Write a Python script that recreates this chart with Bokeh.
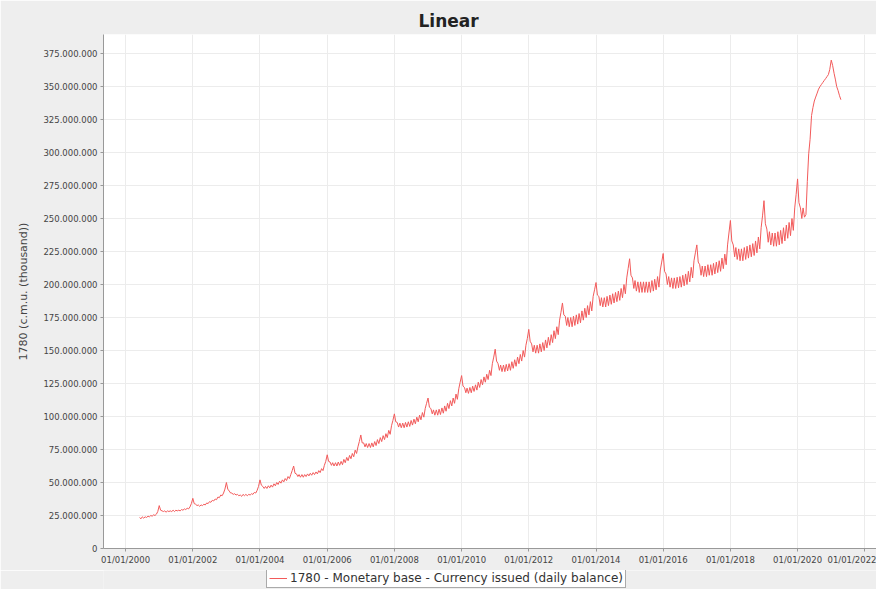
from datetime import datetime

from bokeh.plotting import figure
from bokeh.layouts import column
from bokeh.models import (Range1d, FixedTicker, DatetimeTickFormatter, Legend,
                          LegendItem, ColumnDataSource)
from bokeh.embed import file_html
from bokeh.resources import INLINE

title_text = "Linear"
y_axis_title = "1780 (c.m.u. (thousand))"
series_name = "1780 - Monetary base - Currency issued (daily balance)"

# Readings on the 1st and 16th of each month, in millions of the axis unit
v2000 = [23.5, 22.5, 24, 23, 24, 23.5, 24.5, 24, 25, 24.5, 25.5, 25, 26, 28]  # Jun..Dec
v2001 = [32.5, 29, 28.5, 28, 28.5, 27.5, 28.5, 28, 28.5, 28, 29, 28, 29, 28.5, 29, 28.5, 29.5, 29, 30, 29.5, 30.5, 30, 31.5, 34]
v2002 = [38, 34, 33.5, 32.5, 33, 32, 33, 32.5, 33.5, 33, 34.5, 34, 35.5, 35, 36.5, 36, 37.5, 37, 39, 38.5, 40.5, 40, 42, 45]
v2003 = [50, 45, 43.5, 42, 42, 41, 41.5, 40.5, 41, 40, 40.5, 39.5, 41, 40, 41, 40, 41, 40.5, 41.5, 41, 42.5, 42, 44, 47]
v2004 = [52, 48, 47, 45.5, 47, 45.5, 47.5, 46, 48, 46.5, 49, 47.5, 50, 48.5, 51, 49.5, 52, 50.5, 53, 51.5, 54.5, 53, 56, 59]
v2005 = [62.5, 57, 56.5, 54.5, 56, 54, 56, 54, 56, 54.5, 56.5, 55, 57, 55.5, 57.5, 56, 58, 56.5, 59, 57.5, 60.5, 59, 63, 66]
v2006 = [71, 66, 65.5, 63, 65, 62.5, 65, 62.5, 65.5, 63, 66, 63.5, 67.5, 65, 69, 66.5, 70.5, 68, 72, 69.5, 74.5, 72, 77, 81]
v2007 = [86, 80, 80, 77, 79.5, 76.5, 79.5, 76.5, 80, 77, 81, 78, 82.5, 79.5, 84, 81, 85.5, 82.5, 87, 84, 89.5, 86.5, 93, 97]
v2008 = [102, 96, 95.5, 92, 95, 91.5, 95, 91.5, 95.5, 92, 96, 92.5, 97, 93.5, 98, 94.5, 99.5, 96, 101, 97.5, 103, 99.5, 106, 110]
v2009 = [114, 107, 106, 102, 105, 101, 105, 101, 105.5, 101.5, 106.5, 102.5, 108, 104, 110, 106, 112, 108, 114, 110, 117, 113, 121, 126]
v2010 = [131, 123, 122, 118, 121.5, 117.5, 122, 118, 123, 119, 124, 120, 126, 122, 128, 124, 130, 126, 132, 128, 135, 131, 140, 145]
v2011 = [151, 142, 140, 135, 139, 134, 139, 134, 139.5, 134.5, 140, 135, 141.5, 136.5, 143, 138, 145, 140, 147, 142, 150, 145, 154, 159]
v2012 = [166, 157, 155, 149, 154, 148, 154, 148, 155, 149, 156, 150, 158, 152, 160, 154, 162, 156, 165, 159, 168, 162, 173, 179]
v2013 = [186, 177, 176, 169, 175, 168, 175, 168, 176, 169, 177, 170, 178, 171, 180, 173, 182, 175, 184, 177, 187, 180, 191, 196]
v2014 = [201.5, 192, 191, 184, 190, 183, 190, 183, 191, 184, 192, 185, 193, 186, 194, 187, 195, 188, 197, 190, 200, 193, 205, 212]
v2015 = [219.5, 207, 205, 197, 203, 195, 202, 194, 202, 194, 202, 194, 202, 194, 202, 194, 203, 195, 204, 196, 206, 198, 211, 217]
v2016 = [223.5, 210, 208, 200, 206, 198, 205, 197, 205, 197, 205.5, 197.5, 206, 198, 207, 199, 208, 200, 210, 202, 213, 205, 218, 224]
v2017 = [230, 217, 215, 207, 214, 206, 214, 206, 215, 207, 215, 207, 216, 208, 217, 209, 218, 210, 220, 212, 223, 215, 230, 239]
v2018 = [248.5, 233, 230, 221, 228, 219, 227, 218, 227, 218, 228, 219, 229, 220, 230, 221, 231, 222, 233, 224, 236, 227, 243, 252]
v2019 = [263.5, 246, 242, 232, 240, 230, 239, 229, 239, 229, 240, 230, 241, 231, 243, 233, 245, 235, 247, 237, 250, 241, 258, 268]
v2020 = [280, 262, 258, 250, 258, 251, 253, 278, 299, 310, 328, 334, 339, 342, 345, 348, 350, 351.5, 353, 354.5, 356, 357.5, 359, 363]
v2021 = [370, 366, 360, 355, 350, 347, 343, 340]  # Jan..Apr

yearly = [(2000, 6, v2000), (2001, 1, v2001), (2002, 1, v2002), (2003, 1, v2003),
          (2004, 1, v2004), (2005, 1, v2005), (2006, 1, v2006), (2007, 1, v2007),
          (2008, 1, v2008), (2009, 1, v2009), (2010, 1, v2010), (2011, 1, v2011),
          (2012, 1, v2012), (2013, 1, v2013), (2014, 1, v2014), (2015, 1, v2015),
          (2016, 1, v2016), (2017, 1, v2017), (2018, 1, v2018), (2019, 1, v2019),
          (2020, 1, v2020), (2021, 1, v2021)]

y_ticks = [0, 25, 50, 75, 100, 125, 150, 175, 200, 225, 250, 275, 300, 325, 350, 375]
y_tick_labels = ["0", "25.000.000", "50.000.000", "75.000.000", "100.000.000",
                 "125.000.000", "150.000.000", "175.000.000", "200.000.000",
                 "225.000.000", "250.000.000", "275.000.000", "300.000.000",
                 "325.000.000", "350.000.000", "375.000.000"]
x_tick_years = [2000, 2002, 2004, 2006, 2008, 2010, 2012, 2014, 2016, 2018, 2020, 2022]

dates, values = [], []
for yr, m0, vals in yearly:
    for i, v in enumerate(vals):
        dates.append(datetime(yr, m0 + i // 2, 1 if i % 2 == 0 else 16))
        values.append(v)

src = ColumnDataSource(data=dict(date=dates, value=values))

LINE_COLOR = "#f25a5a"
BG = "#eeeeee"

p = figure(width=876, height=570, x_axis_type="datetime",
           output_backend="svg", toolbar_location=None,
           x_range=Range1d(datetime(1999, 5, 6), datetime(2022, 5, 8)),
           y_range=Range1d(0, 389.4),
           min_border_left=103, min_border_right=0, min_border_top=34,
           min_border_bottom=22)

p.background_fill_color = "white"
p.border_fill_color = BG
p.outline_line_color = None

p.title.text = title_text
p.title.align = "left"
p.title.offset = 315
p.title.standoff = 7
p.title.text_font = "DejaVu Sans"
p.title.text_font_size = "17px"
p.title.text_font_style = "bold"
p.title.text_color = "#222222"

def epoch_ms(y):
    return (datetime(y, 1, 1) - datetime(1970, 1, 1)).total_seconds() * 1000.0

p.xaxis.ticker = FixedTicker(ticks=[epoch_ms(y) for y in x_tick_years])
fmt = "%d/%m/%Y"
p.xaxis.formatter = DatetimeTickFormatter(years=fmt, months=fmt, days=fmt,
                                          hours=fmt, minutes=fmt, seconds=fmt,
                                          milliseconds=fmt, microseconds=fmt)
p.yaxis.ticker = FixedTicker(ticks=y_ticks)
p.yaxis.major_label_overrides = {t: lab for t, lab in zip(y_ticks, y_tick_labels)}

for ax in (p.xaxis[0], p.yaxis[0]):
    ax.axis_line_color = "#999999"
    ax.major_tick_line_color = "#999999"
    ax.major_tick_out = 3
    ax.major_tick_in = 0
    ax.minor_tick_out = 0
    ax.minor_tick_in = 0
    ax.major_label_text_font = "DejaVu Sans"
    ax.major_label_text_font_size = "8.5px"
    ax.major_label_text_color = "#444444"
    ax.major_label_standoff = 3

p.yaxis.axis_label = y_axis_title
p.yaxis.axis_label_text_font = "DejaVu Sans"
p.yaxis.axis_label_text_font_size = "11px"
p.yaxis.axis_label_text_font_style = "normal"
p.yaxis.axis_label_text_color = "#444444"
p.yaxis.axis_label_standoff = 10

p.xgrid.grid_line_color = "#ececec"
p.ygrid.grid_line_color = "#ececec"

r = p.line(x="date", y="value", source=src, line_color=LINE_COLOR, line_width=1)

# Legend strip under the chart (a separate small canvas so it is not clipped).
# The key line shares the series data; it lies outside this strip's ranges,
# so only its legend sample is visible.
lf = figure(width=876, height=19, output_backend="svg", toolbar_location=None,
            x_axis_location=None, y_axis_location=None, min_border=0,
            x_range=Range1d(0, 1), y_range=Range1d(0, 1))
lf.grid.visible = False
lf.outline_line_color = None
lf.background_fill_color = BG
lf.border_fill_color = BG
key = lf.line(x="date", y="value", source=src, line_color=LINE_COLOR, line_width=1)

legend = Legend(items=[LegendItem(label=series_name, renderers=[key])],
                location=(163, 1), orientation="horizontal")
legend.background_fill_color = "white"
legend.background_fill_alpha = 1.0
legend.border_line_color = "#555555"
legend.border_line_width = 1
legend.label_text_font = "DejaVu Sans"
legend.label_text_font_size = "12px"
legend.label_text_color = "#333333"
legend.glyph_width = 18
legend.glyph_height = 12
legend.label_height = 12
legend.label_standoff = 3
legend.padding = 2
legend.margin = 0
legend.spacing = 0
lf.add_layout(legend)

layout = column(p, lf, spacing=0)

open("out.html", "w").write(file_html(layout, INLINE))
